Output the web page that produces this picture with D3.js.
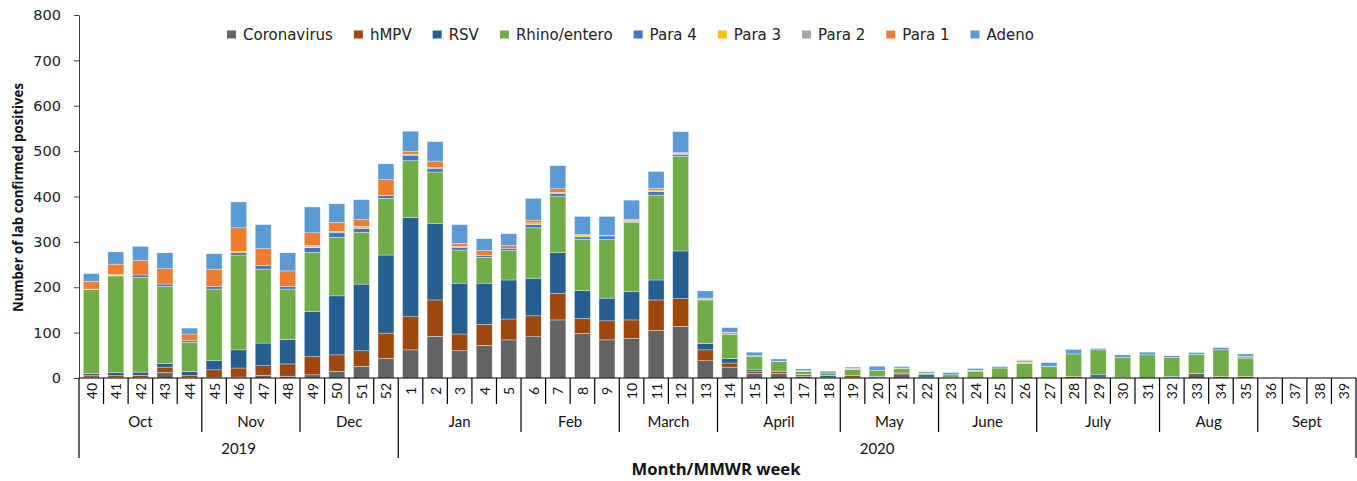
<!DOCTYPE html>
<html><head><meta charset="utf-8">
<script src="https://cdn.jsdelivr.net/npm/d3@7"></script>
<style>body{margin:0;background:#fff}svg{display:block}</style>
</head><body>
<svg id="c" width="1357" height="481"></svg>
<script>
const weekLabels = [40,41,42,43,44,45,46,47,48,49,50,51,52,1,2,3,4,5,6,7,8,9,10,11,12,13,14,15,16,17,18,19,20,21,22,23,24,25,26,27,28,29,30,31,32,33,34,35,36,37,38,39];
const monthLabels = ["Oct","Nov","Dec","Jan","Feb","March","April","May","June","July","Aug","Sept"];
const monthWeekCounts = [5,4,4,5,4,4,5,4,4,5,4,4];
const yearLabels = ["2019","2020"];
const yearWeekCounts = [13,39];
const yTicks = [0,100,200,300,400,500,600,700,800];
const seriesNames = ["Coronavirus","hMPV","RSV","Rhino/entero","Para 4","Para 3","Para 2","Para 1","Adeno"];
const seriesColors = ["#636363","#9E480E","#255E91","#70AD47","#4472C4","#FFC000","#A5A5A5","#ED7D31","#5B9BD5"];

const coronavirus = [2,1,1,12,1,1,2,6,4,7,15,26,43, 62,92,60,72,84,91,128,98,84,87,105,114,38, 24,10,10,4,1,1,1,9,2,1,0,0,0, 0,3,2,1,0,2,10,3,3,0,0,0,0];
const hmpv        = [3,4,5,12,4,17,20,21,27,40,36,34,56, 73,80,37,46,46,46,59,33,42,41,67,61,24, 9,4,5,3,0,4,0,2,0,0,0,0,0, 0,0,0,0,0,0,0,0,0,0,0,0,0];
const rsv         = [5,7,7,8,9,20,40,50,54,99,130,147,172, 219,169,112,91,86,83,89,62,50,62,44,105,14, 10,4,0,1,5,0,2,0,5,0,0,0,0, 0,0,5,0,0,2,0,0,0,0,0,0,0];
const rhino       = [185,213,209,170,65,158,209,163,111,131,129,114,125, 125,113,73,57,65,111,125,113,130,153,187,209,96, 53,29,21,6,5,14,14,10,3,6,15,22,32, 25,50,55,44,51,41,42,59,41,0,0,0,0];
const para4       = [0,1,5,5,3,6,5,8,6,10,10,9,6, 12,7,6,4,5,7,6,5,7,2,8,4,0, 0,0,0,0,0,0,0,0,0,0,0,0,0, 1,0,0,0,0,0,0,0,0,0,0,0,0];
const para3       = [1,2,0,0,0,0,3,0,0,2,0,4,0, 0,0,0,0,0,4,0,3,0,0,3,0,0, 0,0,0,1,0,1,0,0,0,0,2,0,3, 0,0,0,0,0,0,0,0,0,0,0,0,0];
const para2       = [0,0,0,0,0,0,0,0,0,3,3,0,0, 2,3,2,0,0,0,2,0,0,2,0,2,2, 4,2,1,1,0,1,0,1,1,0,0,0,4, 0,0,0,0,0,0,0,0,4,0,0,0,0];
const para1       = [17,23,32,34,15,38,52,37,34,28,20,15,35, 6,14,7,11,6,6,8,2,2,3,4,2,2, 1,0,0,0,0,0,0,0,0,0,0,0,0, 0,0,0,0,0,0,0,0,0,0,0,0,0];
const adeno       = [17,27,31,35,13,34,57,53,40,57,41,44,35, 45,43,41,26,26,48,51,40,41,42,37,46,16, 10,8,5,4,4,3,9,3,3,5,4,3,1, 8,10,3,6,6,4,4,5,5,0,0,0,0];

const seriesValues = [coronavirus,hmpv,rsv,rhino,para4,para3,para2,para1,adeno];

const svg = d3.select("#c");
svg.append("rect").attr("width",1357).attr("height",481).attr("fill","#fff");

const X0 = 79, X1 = 1356, Y0 = 378, Y1 = 15;
const keys = weekLabels.map((w,i)=> i + "_" + w);
const rows = keys.map((k,i)=>{ const r={key:k}; seriesNames.forEach((s,j)=> r[s]=seriesValues[j][i]); return r; });

const x = d3.scaleBand().domain(keys).range([X0,X1]).paddingInner(0.35).paddingOuter(0.175);
const y = d3.scaleLinear().domain([0,800]).range([Y0,Y1]);
const color = d3.scaleOrdinal().domain(seriesNames).range(seriesColors);
const step = x.step();
const bound = i => i >= keys.length ? X1 : x(keys[i]) - step*x.paddingInner()/2;

// bars
const stacked = d3.stack().keys(seriesNames)(rows);
svg.append("g").selectAll("g").data(stacked).join("g")
  .attr("fill", d=>color(d.key))
  .selectAll("rect").data(d=>d.filter(p=>p[1]-p[0]>0)).join("rect")
  .attr("x", d=>x(d.data.key)).attr("width", x.bandwidth())
  .attr("y", d=>y(d[1])).attr("height", d=>y(d[0])-y(d[1]))
  .attr("stroke","#fff").attr("stroke-width",0.5).attr("stroke-opacity",0.7);

// y axis
const ya = svg.append("g").attr("transform",`translate(${X0},0)`)
  .call(d3.axisLeft(y).tickValues(yTicks).tickSize(5).tickSizeOuter(0).tickPadding(13));
ya.select(".domain").attr("stroke","#404040");
ya.selectAll(".tick line").attr("stroke","#404040");
ya.selectAll(".tick text").attr("font-family","DejaVu Sans").attr("font-size",14.5).attr("fill","#222");

svg.append("text").attr("transform","translate(17,197.5) rotate(-90)")
  .attr("text-anchor","middle").attr("dominant-baseline","central")
  .attr("font-family","Open Sans").attr("font-weight","bold").attr("font-size",14)
  .attr("textLength",229).attr("lengthAdjust","spacingAndGlyphs")
  .attr("fill","#111").text("Number of lab confirmed positives");

// x axis multi-level
const xa = svg.append("g");
xa.append("line").attr("x1",X0).attr("x2",X1).attr("y1",Y0).attr("y2",Y0).attr("stroke","#000").attr("stroke-width",1.2);
const monthStarts = new Set(); let acc=0; monthWeekCounts.forEach(c=>{monthStarts.add(acc); acc+=c;}); monthStarts.add(acc);
const yearStarts = new Set(); acc=0; yearWeekCounts.forEach(c=>{yearStarts.add(acc); acc+=c;}); yearStarts.add(acc);
for (let i=0;i<=keys.length;i++){
  const bx = bound(i);
  const len = yearStarts.has(i) ? 458 : monthStarts.has(i) ? 432 : 404;
  xa.append("line").attr("x1",bx).attr("x2",bx).attr("y1",Y0).attr("y2",len).attr("stroke","#000").attr("stroke-width",1.2);
}
xa.selectAll("text.wk").data(keys).join("text").attr("class","wk")
  .attr("transform",(k,i)=>`translate(${x(k)+x.bandwidth()/2},391) rotate(-90)`)
  .attr("text-anchor","middle").attr("dominant-baseline","central")
  .attr("font-family","Lato").attr("font-size",14).attr("fill","#111")
  .text((k,i)=>weekLabels[i]);
acc=0;
monthLabels.forEach((m,j)=>{
  const a=bound(acc), b=bound(acc+monthWeekCounts[j]); acc+=monthWeekCounts[j];
  xa.append("text").attr("x",(a+b)/2).attr("y",421).attr("text-anchor","middle").attr("dominant-baseline","central")
    .attr("font-family","Lato").attr("font-size",15).attr("fill","#111").text(m);
});
acc=0;
yearLabels.forEach((m,j)=>{
  const a=bound(acc), b=bound(acc+yearWeekCounts[j]); acc+=yearWeekCounts[j];
  xa.append("text").attr("x",(a+b)/2).attr("y",448).attr("text-anchor","middle").attr("dominant-baseline","central")
    .attr("font-family","Lato").attr("font-size",15).attr("fill","#111").text(m);
});
svg.append("text").attr("x",716).attr("y",469).attr("text-anchor","middle").attr("dominant-baseline","central")
  .attr("font-family","Open Sans").attr("font-weight","bold").attr("font-size",15.5).attr("fill","#111")
  .attr("textLength",169).attr("lengthAdjust","spacingAndGlyphs")
  .text("Month/MMWR week");

// legend
const lg = svg.append("g");
let lx = 227;
seriesNames.forEach((s,i)=>{
  lg.append("rect").attr("x",lx).attr("y",30.5).attr("width",9).attr("height",8).attr("fill",color(s));
  const t = lg.append("text").attr("x",lx+16).attr("y",34.5).attr("dominant-baseline","central")
    .attr("font-family","DejaVu Sans").attr("font-size",15).attr("fill","#222").text(s);
  lx += 16 + t.node().getComputedTextLength() + 21;
});
</script>
</body></html>
